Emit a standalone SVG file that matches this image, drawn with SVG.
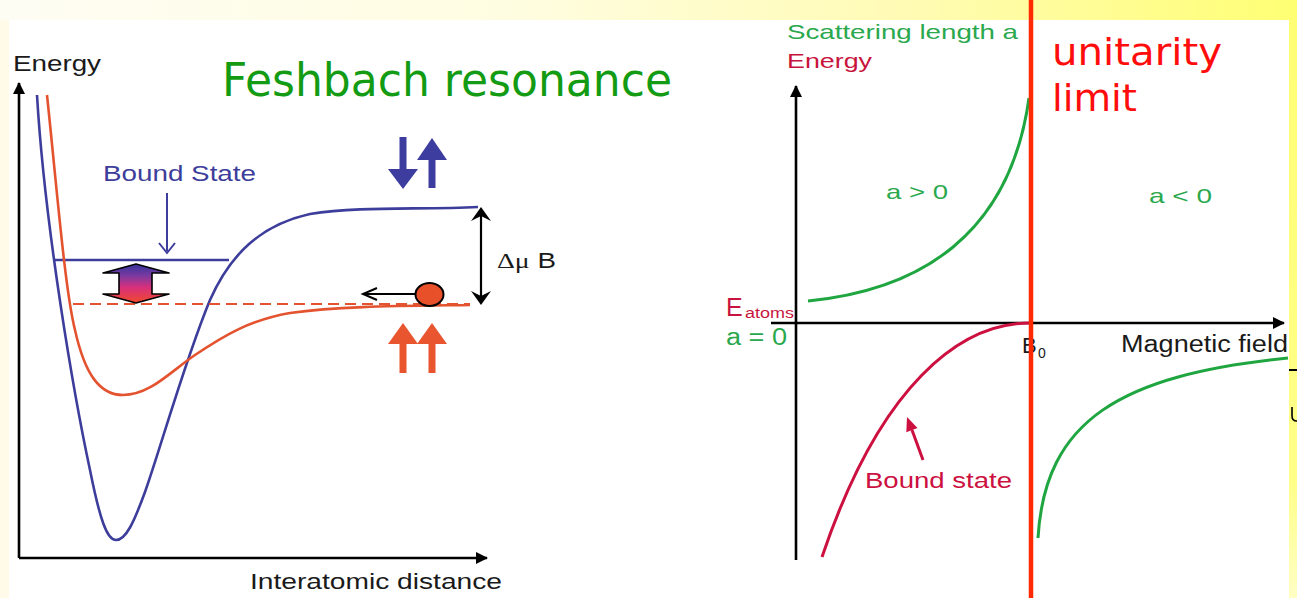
<svg xmlns="http://www.w3.org/2000/svg" width="1297" height="598" viewBox="0 0 1297 598">
<defs>
<linearGradient id="topband" x1="0" y1="0" x2="1" y2="0">
<stop offset="0" stop-color="#fefdf4"/><stop offset="0.4" stop-color="#fffde0"/><stop offset="0.7" stop-color="#fffbb4"/><stop offset="1" stop-color="#ffff74"/>
</linearGradient>
<linearGradient id="rightband" x1="0" y1="0" x2="0" y2="1">
<stop offset="0" stop-color="#ffff74"/><stop offset="0.8" stop-color="#ffff88"/><stop offset="1" stop-color="#ffffc4"/>
</linearGradient>
<linearGradient id="dbl" x1="0" y1="0" x2="0" y2="1">
<stop offset="0" stop-color="#34359c"/><stop offset="0.3" stop-color="#7a3aa0"/><stop offset="0.6" stop-color="#d8307c"/><stop offset="1" stop-color="#f04a2a"/>
</linearGradient>
<marker id="blk" viewBox="0 0 12 12" refX="11" refY="6" markerWidth="12" markerHeight="12" markerUnits="userSpaceOnUse" orient="auto">
<path d="M0,0 L12,6 L0,12 Z" fill="#000"/>
</marker>
</defs>
<style>
.t{font-family:"Liberation Sans",Arial,sans-serif}
.ax{stroke:#000;stroke-width:2.6;fill:none}
.blue{stroke:#3d3d9b;stroke-width:2.6;fill:none}
.red{stroke:#e4532f;stroke-width:2.6;fill:none}
.grn{stroke:#1fa640;stroke-width:3;fill:none}
.crim{stroke:#cc1040;stroke-width:3;fill:none}
.comic{font-family:"DejaVu Sans",sans-serif}
</style>

<g id="background">
<rect x="0" y="0" width="1297" height="598" fill="#fffbe8"/>
<rect x="0" y="0" width="1297" height="20" fill="url(#topband)"/>
<rect x="1289" y="0" width="8" height="598" fill="url(#rightband)"/>
<rect x="9" y="20" width="1280" height="578" fill="#ffffff"/>
<line x1="1289" y1="370" x2="1297" y2="370" stroke="#000" stroke-width="2"/>
<path d="M1292,407 L1292,416 Q1292,421 1297,421" fill="none" stroke="#000" stroke-width="1.6"/>
</g>

<g id="left-plot">
<g id="left-axes">
<path class="ax" d="M19,558 L19,83" marker-end="url(#blk)"/>
<path class="ax" d="M19,558 L487,558" marker-end="url(#blk)"/>
<text class="t" x="13" y="71" font-size="22" textLength="88" lengthAdjust="spacingAndGlyphs" fill="#1a1a1a">Energy</text>
<text class="t" x="250" y="589" font-size="22" textLength="252" lengthAdjust="spacingAndGlyphs" fill="#1a1a1a">Interatomic distance</text>
</g>
<text id="title" class="comic" x="222" y="96" font-size="46" textLength="450" lengthAdjust="spacingAndGlyphs" fill="#139c13">Feshbach resonance</text>

<g id="closed-channel">
<path class="blue" d="M37,95 C45,230 75,400 90,470 C100,520 107,540 116,540 C126,540 134,522 145,492 C160,450 185,360 210,300 C230,255 260,225 310,214 C360,206 420,210 478,207"/>
<line class="blue" x1="53" y1="260" x2="229" y2="260"/>
</g>
<g id="open-channel">
<path class="red" d="M47,95 C57,190 65,290 75,330 C85,375 100,395 123,395 C150,395 170,372 195,355 C225,335 250,320 290,313 C340,306 400,306 470,305"/>
<line x1="73" y1="304" x2="470" y2="304" stroke="#e4532f" stroke-width="2.2" stroke-dasharray="11 6"/>
</g>

<g id="bound-state-label">
<text class="t" x="103" y="181" font-size="22" textLength="153" lengthAdjust="spacingAndGlyphs" fill="#3d3d9b">Bound State</text>
<line x1="167" y1="193" x2="167" y2="251" stroke="#3d3d9b" stroke-width="2"/>
<polyline points="159,243 167,253 175,243" fill="none" stroke="#3d3d9b" stroke-width="2"/>
</g>

<g id="coupling-arrow">
<polygon points="136,264 169,273 152,273 152,294 169,294 136,303 103,294 119,294 119,273 103,273" fill="url(#dbl)" stroke="#000" stroke-width="1.6" stroke-linejoin="round"/>
</g>

<g id="spins-closed" fill="#3d3d9f">
<rect x="399.5" y="137" width="7" height="35"/>
<polygon points="388,169 418,169 403,189"/>
<rect x="428.5" y="156" width="7" height="32"/>
<polygon points="417,160 447,160 432,138"/>
</g>
<g id="spins-open" fill="#e8552f">
<rect x="399.5" y="340" width="7" height="33"/>
<polygon points="388,344 418,344 403,323"/>
<rect x="428.5" y="340" width="7" height="33"/>
<polygon points="417,344 447,344 432,323"/>
</g>

<g id="atom">
<ellipse cx="429.5" cy="294.5" rx="14" ry="11.5" fill="#e8502a" stroke="#000" stroke-width="2"/>
<line x1="415" y1="294" x2="363" y2="294" stroke="#000" stroke-width="2"/>
<polyline points="377,288 363,294 377,300" fill="none" stroke="#000" stroke-width="2"/>
</g>

<g id="detuning">
<line x1="481" y1="212" x2="481" y2="300" stroke="#000" stroke-width="2.2"/>
<polygon points="481,207 491,221 481,216 471,221" fill="#000"/>
<polygon points="481,305 491,291 481,296 471,291" fill="#000"/>
<text x="497" y="268" font-size="22" textLength="59" lengthAdjust="spacingAndGlyphs" fill="#1a1a1a"><tspan font-family="Liberation Serif, serif">Δμ</tspan><tspan font-family="Liberation Sans, sans-serif"> B</tspan></text>
</g>
</g>

<g id="right-plot">
<g id="right-axes">
<path class="ax" d="M796,560 L796,86" marker-end="url(#blk)"/>
<path class="ax" d="M771,323 L1284,323" marker-end="url(#blk)"/>
<text class="t" x="787" y="39" font-size="21" textLength="231" lengthAdjust="spacingAndGlyphs" fill="#2aa84e">Scattering length a</text>
<text class="t" x="787" y="68" font-size="21" textLength="85" lengthAdjust="spacingAndGlyphs" fill="#c8143c">Energy</text>
<text class="t" x="1121" y="352" font-size="23" textLength="167" lengthAdjust="spacingAndGlyphs" fill="#1a1a1a">Magnetic field</text>
<text class="t" x="1022" y="353" font-size="22" fill="#1a1a1a">B</text>
<text class="t" x="1038" y="358" font-size="14" fill="#1a1a1a">0</text>
<text class="t" x="726" y="316" font-size="25" fill="#c8143c">E</text>
<text class="t" x="745" y="318" font-size="14" textLength="49" lengthAdjust="spacingAndGlyphs" fill="#c8143c">atoms</text>
<text class="t" x="726" y="345" font-size="23" textLength="61" lengthAdjust="spacingAndGlyphs" fill="#2aa84e">a = 0</text>
</g>
<g id="scattering-length">
<path class="grn" d="M808,301 C920,290 1010,235 1029,98"/>
<path class="grn" d="M1038,538 C1045,420 1120,375 1288,358"/>
<text class="t" x="886" y="199" font-size="21" textLength="62" lengthAdjust="spacingAndGlyphs" fill="#2aa84e">a &gt; 0</text>
<text class="t" x="1149" y="203" font-size="21" textLength="63" lengthAdjust="spacingAndGlyphs" fill="#2aa84e">a &lt; 0</text>
</g>
<g id="bound-state-energy">
<path class="crim" d="M1030,323 C960,323 880,385 822,557"/>
<line x1="923" y1="460" x2="912" y2="430" stroke="#cc1040" stroke-width="3"/>
<polygon points="907,417 917.5,428 906.3,432.2" fill="#cc1040"/>
<text class="t" x="865" y="488" font-size="22" textLength="147" lengthAdjust="spacingAndGlyphs" fill="#cc1040">Bound state</text>
</g>
</g>

<g id="unitarity">
<line x1="1031" y1="0" x2="1031" y2="598" stroke="#ff2a00" stroke-width="4.5"/>
<text class="comic" x="1052" y="65" font-size="38" textLength="170" lengthAdjust="spacingAndGlyphs" fill="#ff0d0d">unitarity</text>
<text class="comic" x="1052" y="111" font-size="38" textLength="85" lengthAdjust="spacingAndGlyphs" fill="#ff0d0d">limit</text>
</g>
</svg>
